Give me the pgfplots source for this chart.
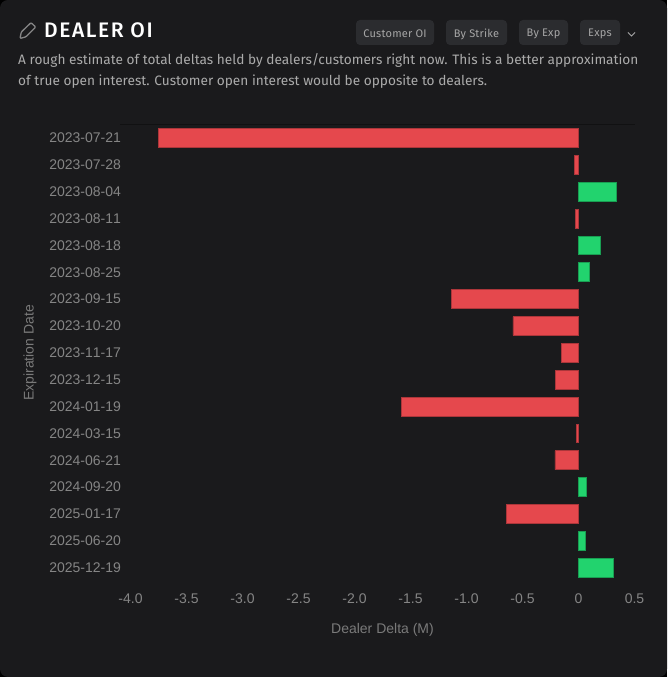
\documentclass[border=0pt]{standalone}
\usepackage{pgfplots}
\pgfplotsset{compat=1.18}
\usepackage{fontspec}
\setmainfont[Kerning=Off]{Liberation Sans}
\newfontfamily\ui{Fira Sans}
\newfontfamily\uititle[LetterSpace=7.5]{Fira Sans Medium}
\newfontfamily\uibtn[LetterSpace=2]{Fira Sans}
\definecolor{bg}{HTML}{1A1A1C}
\definecolor{btn}{HTML}{2B2C2F}
\definecolor{tick}{HTML}{858585}
\definecolor{desc}{HTML}{ABABAB}
\definecolor{btxt}{HTML}{A6A6A6}
\definecolor{rd}{HTML}{E5484D}
\definecolor{gn}{HTML}{22D36E}
\pgfplotstableread{
y v
0 -3.75
1 -0.04
3 -0.027
6 -1.134
7 -0.585
8 -0.156
9 -0.205
10 -1.58
11 -0.022
12 -0.21
14 -0.643
}\neg
\pgfplotstableread{
y v
2 0.335
4 0.196
5 0.098
13 0.071
15 0.0625
16 0.3125
}\pos
\begin{document}
\begin{tikzpicture}[x=1pt,y=1pt]
\useasboundingbox (0,0) rectangle (667,677);
\fill[black] (0,0) rectangle (667,677);
\fill[bg,rounded corners=8pt] (0,0) rectangle (667,677);
% header
\node[anchor=base west,text=white,inner sep=0pt,font=\fontsize{21}{24}\selectfont\uititle] at (44,677-37.7) {DEALER OI};
\begin{scope}[shift={(0,677)},y=-1pt]
\draw[tick,line width=1.3pt,line join=round,rounded corners=1pt] (20,38.5) -- (21.3,32) -- (31,22.7) -- (35.7,27) -- (26,36.8) -- cycle;
\foreach \a/\b/\t in {356/434/Customer OI,446/507/By Strike,519/568/By Exp,580/620/Exps}{
 \fill[btn,rounded corners=4pt] (\a,20) rectangle (\b,45);
 \node[text=btxt,inner sep=0pt,font=\fontsize{11}{13}\selectfont\uibtn] at ({(\a+\b)/2},34) {\t};
}
\draw[btxt,line width=0.9pt] (628,32.5) -- (631.5,36) -- (635,32.5);
\end{scope}
\node[anchor=base west,text=desc,inner sep=0pt,font=\fontsize{13.65}{17}\selectfont\ui] at (18,677-64.5) {A rough estimate of total deltas held by dealers/customers right now. This is a better approximation};
\node[anchor=base west,text=desc,inner sep=0pt,font=\fontsize{13.65}{17}\selectfont\ui] at (18,677-85.5) {of true open interest. Customer open interest would be opposite to dealers.};
\draw[black!35!bg,line width=0.8pt] (120,677-124) -- (635,677-124);
\begin{axis}[
  at={(130.5pt,552.4pt)},anchor=north west,scale only axis,width=504pt,height=456.5pt,
  xmin=-4,xmax=0.5,ymin=-0.5,ymax=16.5,y dir=reverse,
  axis line style={draw=none},
  xtick={-4,-3.5,-3,-2.5,-2,-1.5,-1,-0.5,0,0.5},
  xticklabels={-4.0,-3.5,-3.0,-2.5,-2.0,-1.5,-1.0,-0.5,0,0.5},
  ytick={0,...,16},
  yticklabels={2023-07-21,2023-07-28,2023-08-04,2023-08-11,2023-08-18,2023-08-25,2023-09-15,2023-10-20,2023-11-17,2023-12-15,2024-01-19,2024-03-15,2024-06-21,2024-09-20,2025-01-17,2025-06-20,2025-12-19},
  major tick length=0pt,
  tick label style={text=tick,font=\fontsize{14}{16}\selectfont},
  xticklabel style={yshift=-9.5pt},
  yticklabel style={xshift=-6pt},
  xlabel={Dealer Delta (M)},ylabel={Expiration Date},
  label style={text=tick!90!bg,font=\fontsize{14}{16}\selectfont},
  xlabel style={yshift=-12.5pt},
  ylabel style={yshift=6pt},
  xbar,bar width=18.8pt,bar shift=0pt,
]
\addplot[fill=rd,draw=rd!75!black,line width=0.9pt] table[x=v,y=y]{\neg};
\addplot[fill=gn,draw=gn!75!black,line width=0.9pt] table[x=v,y=y]{\pos};
\end{axis}
\end{tikzpicture}
\end{document}
